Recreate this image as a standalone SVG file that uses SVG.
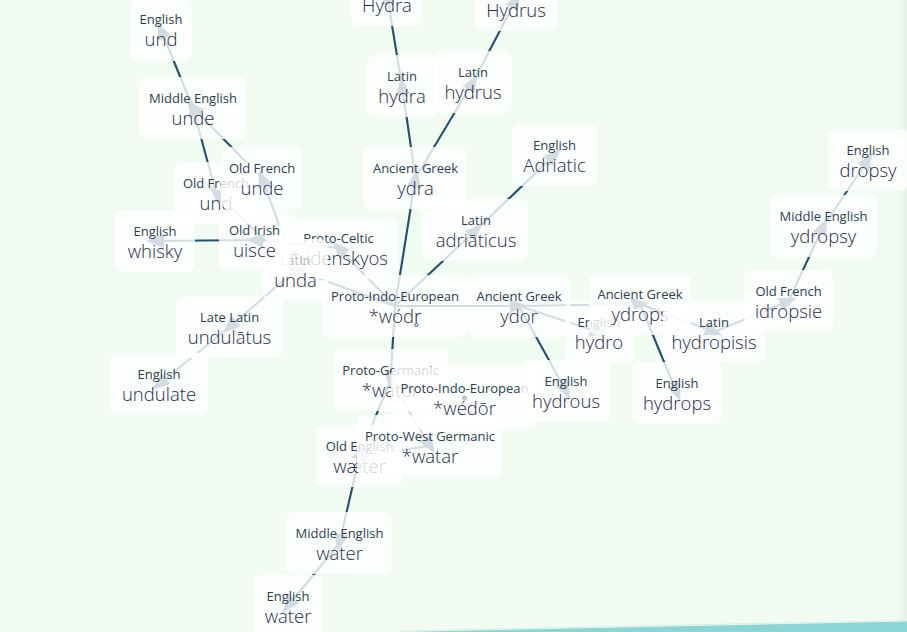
<svg xmlns="http://www.w3.org/2000/svg" width="907" height="632" viewBox="0 0 907 632">
<defs>
<style>
.bg{fill:#f1fbf2}
.box{fill:#ffffff;fill-opacity:0.8}
.lab{font-family:"Open Sans","Noto Sans",sans-serif;font-size:13px;fill:#2c3e50;text-anchor:middle}
.wd{font-family:"Open Sans","Noto Sans",sans-serif;font-size:18.5px;font-weight:300;fill:#2b2b4c;text-anchor:middle}
.edge{stroke:#22506f;stroke-width:2.1;fill:none;marker-end:url(#arr)}
</style>
<marker id="arr" viewBox="0 0 18 14" refX="9" refY="7" markerWidth="18" markerHeight="14" markerUnits="userSpaceOnUse" orient="auto">
<path d="M0,0 L18,7 L0,14 z" fill="#22506f"/>
</marker>
<linearGradient id="edgeShade" x1="0" y1="0" x2="1" y2="0">
<stop offset="0" stop-color="#000" stop-opacity="0"/>
<stop offset="1" stop-color="#000" stop-opacity="0.04"/>
</linearGradient>
</defs>
<rect class="bg" x="0" y="0" width="907" height="632"/>
<rect x="897" y="0" width="10" height="632" fill="url(#edgeShade)"/>
<polygon points="400,632 907,621.5 907,632" fill="#8bd5d4"/>
<line x1="400" y1="631" x2="907" y2="620.5" stroke="#d4efe8" stroke-width="1.2"/>

<g id="connectors">
<line class="edge" x1="193" y1="108" x2="161" y2="30"/>
<line class="edge" x1="216" y1="193" x2="193" y2="108"/>
<line class="edge" x1="262" y1="178" x2="193" y2="108"/>
<line class="edge" x1="295.5" y1="270" x2="216" y2="193"/>
<line class="edge" x1="295.5" y1="270" x2="262" y2="178"/>
<line class="edge" x1="295.5" y1="270" x2="229.5" y2="327"/>
<line class="edge" x1="229.5" y1="327" x2="159" y2="384"/>
<line class="edge" x1="395" y1="306" x2="295.5" y2="270"/>
<line class="edge" x1="395" y1="306" x2="338.5" y2="248"/>
<line class="edge" x1="338.5" y1="248" x2="254.5" y2="240"/>
<line class="edge" x1="254.5" y1="240" x2="155" y2="241"/>
<line class="edge" x1="395" y1="306" x2="415.5" y2="178"/>
<line class="edge" x1="415.5" y1="178" x2="402" y2="86"/>
<line class="edge" x1="402" y1="86" x2="387" y2="-5"/>
<line class="edge" x1="415.5" y1="178" x2="473" y2="82"/>
<line class="edge" x1="473" y1="82" x2="516" y2="0"/>
<line class="edge" x1="395" y1="306" x2="476" y2="230"/>
<line class="edge" x1="476" y1="230" x2="554.5" y2="155"/>
<line class="edge" x1="395" y1="306" x2="519" y2="306"/>
<line class="edge" x1="519" y1="306" x2="599" y2="332"/>
<line class="edge" x1="519" y1="306" x2="566" y2="391"/>
<line class="edge" x1="519" y1="306" x2="640" y2="304"/>
<line class="edge" x1="640" y1="304" x2="677" y2="393"/>
<line class="edge" x1="640" y1="304" x2="714" y2="332"/>
<line class="edge" x1="714" y1="332" x2="788.5" y2="301"/>
<line class="edge" x1="788.5" y1="301" x2="823.5" y2="226"/>
<line class="edge" x1="823.5" y1="226" x2="868" y2="160"/>
<line class="edge" x1="395" y1="306" x2="390.5" y2="380"/>
<line class="edge" x1="390.5" y1="380" x2="430" y2="446"/>
<line class="edge" x1="390.5" y1="380" x2="359.5" y2="456"/>
<line class="edge" x1="430" y1="446" x2="359.5" y2="456"/>
<line class="edge" x1="359.5" y1="456" x2="339.5" y2="543"/>
<line class="edge" x1="339.5" y1="543" x2="288" y2="606"/>
</g>

<g id="n-hydra"><rect class="box" x="351" y="-36" width="72" height="62" rx="8"/><text class="wd" x="387" y="12">Hydra</text></g>
<g id="n-hydrus"><rect class="box" x="475" y="-31" width="82" height="62" rx="8"/><text class="wd" x="516" y="17">Hydrus</text></g>
<g id="n-la-hydra"><rect class="box" x="367" y="55" width="70" height="62" rx="8"/><text class="lab" x="402" y="81">Latin</text><text class="wd" x="402" y="103">hydra</text></g>
<g id="n-la-hydrus"><rect class="box" x="434" y="51" width="78" height="62" rx="8"/><text class="lab" x="473" y="77">Latin</text><text class="wd" x="473" y="99">hydrus</text></g>
<g id="n-en-und"><rect class="box" x="130" y="-1" width="62" height="62" rx="8"/><text class="lab" x="161" y="24">English</text><text class="wd" x="161" y="46">und</text></g>
<g id="n-me-unde"><rect class="box" x="139" y="77" width="108" height="62" rx="8"/><text class="lab" x="193" y="103">Middle English</text><text class="wd" x="193" y="125">unde</text></g>
<g id="n-of-und"><rect class="box" x="174" y="162" width="84" height="62" rx="8"/><text class="lab" x="216" y="188">Old French</text><text class="wd" x="216" y="210">und</text></g>
<g id="n-of-unde"><rect class="box" x="221" y="147" width="82" height="62" rx="8"/><text class="lab" x="262" y="173">Old French</text><text class="wd" x="262" y="195">unde</text></g>
<g id="n-ag-ydra"><rect class="box" x="363" y="147" width="104" height="62" rx="8"/><text class="lab" x="415.5" y="173">Ancient Greek</text><text class="wd" x="415.5" y="195">ydra</text></g>
<g id="n-en-adriatic"><rect class="box" x="512" y="124" width="85" height="62" rx="8"/><text class="lab" x="554.5" y="150">English</text><text class="wd" x="554.5" y="172">Adriatic</text></g>
<g id="n-la-adriaticus"><rect class="box" x="423" y="199" width="105" height="62" rx="8"/><text class="lab" x="476" y="225">Latin</text><text class="wd" x="476" y="247">adriāticus</text></g>
<g id="n-en-dropsy"><rect class="box" x="828" y="129" width="80" height="62" rx="8"/><text class="lab" x="868" y="155">English</text><text class="wd" x="868" y="177">dropsy</text></g>
<g id="n-me-ydropsy"><rect class="box" x="770" y="195" width="107" height="62" rx="8"/><text class="lab" x="823.5" y="221">Middle English</text><text class="wd" x="823.5" y="243">ydropsy</text></g>
<g id="n-en-whisky"><rect class="box" x="115" y="210" width="80" height="62" rx="8"/><text class="lab" x="155" y="236">English</text><text class="wd" x="155" y="258">whisky</text></g>
<g id="n-pc"><rect class="box" x="279" y="217" width="119" height="62" rx="8"/><text class="lab" x="338.5" y="243">Proto-Celtic</text><text class="wd" x="338.5" y="265">*udenskyos</text></g>
<g id="n-la-unda"><rect class="box" x="263" y="239" width="65" height="62" rx="8"/><text class="lab" x="295.5" y="265" fill-opacity="0.35">Latin</text><text class="wd" x="295.5" y="287">unda</text></g>
<g id="n-oi-uisce"><rect class="box" x="219" y="209" width="71" height="62" rx="8"/><text class="lab" x="254.5" y="235">Old Irish</text><text class="wd" x="254.5" y="257">uisce</text></g>
<g id="n-ll"><rect class="box" x="176" y="296" width="107" height="62" rx="8"/><text class="lab" x="229.5" y="322">Late Latin</text><text class="wd" x="229.5" y="344">undulātus</text></g>
<g id="n-en-undulate"><rect class="box" x="110" y="353" width="98" height="62" rx="8"/><text class="lab" x="159" y="379">English</text><text class="wd" x="159" y="401">undulate</text></g>
<g id="n-pie1"><rect class="box" x="322" y="275" width="145" height="62" rx="8"/><text class="lab" x="395" y="301">Proto-Indo-European</text><text class="wd" x="395" y="323">*wódr̥</text></g>
<g id="n-ag-ydor"><rect class="box" x="467" y="275" width="103" height="62" rx="8"/><text class="lab" x="519" y="301">Ancient Greek</text><text class="wd" x="519" y="323">ydor</text></g>
<g id="n-en-hydro"><rect class="box" x="565" y="301" width="69" height="62" rx="8"/><text class="lab" x="599" y="327">English</text><text class="wd" x="599" y="349">hydro</text></g>
<g id="n-ag-ydrops"><rect class="box" x="589" y="273" width="102" height="62" rx="8"/><text class="lab" x="640" y="299">Ancient Greek</text><text class="wd" x="640" y="321">ydrops</text></g>
<g id="n-la-hydropisis"><rect class="box" x="663" y="301" width="102" height="62" rx="8"/><text class="lab" x="714" y="327">Latin</text><text class="wd" x="714" y="349">hydropisis</text></g>
<g id="n-of-idropsie"><rect class="box" x="744" y="270" width="89" height="62" rx="8"/><text class="lab" x="788.5" y="296">Old French</text><text class="wd" x="788.5" y="318">idropsie</text></g>
<g id="n-pg"><rect class="box" x="334" y="349" width="114" height="62" rx="8"/><text class="lab" x="390.5" y="375">Proto-Germanic</text><text class="wd" x="390.5" y="397">*wator</text></g>
<g id="n-pie2"><rect class="box" x="391" y="367" width="146" height="62" rx="8"/><circle cx="464.5" cy="398" r="2.5" fill="#b8c5d0"/><text class="lab" x="464.5" y="393">Proto-Indo-European</text><text class="wd" x="464.5" y="415">*wédōr</text></g>
<g id="n-en-hydrous"><rect class="box" x="521" y="360" width="90" height="62" rx="8"/><text class="lab" x="566" y="386">English</text><text class="wd" x="566" y="408">hydrous</text></g>
<g id="n-en-hydrops"><rect class="box" x="632" y="362" width="90" height="62" rx="8"/><text class="lab" x="677" y="388">English</text><text class="wd" x="677" y="410">hydrops</text></g>
<g id="n-oe"><rect class="box" x="316" y="425" width="86" height="62" rx="8"/><text class="lab" x="359.5" y="451">Old English</text><text class="wd" x="359.5" y="473">wæter</text></g>
<g id="n-pwg"><rect class="box" x="357" y="415" width="146" height="62" rx="8"/><text class="lab" x="430" y="441">Proto-West Germanic</text><text class="wd" x="430" y="463">*watar</text></g>
<g id="n-me-water"><rect class="box" x="286" y="512" width="106" height="62" rx="8"/><text class="lab" x="339.5" y="538">Middle English</text><text class="wd" x="339.5" y="560">water</text></g>
<g id="n-en-water"><rect class="box" x="253" y="575" width="69" height="62" rx="8"/><text class="lab" x="288" y="601">English</text><text class="wd" x="288" y="623">water</text></g>
</svg>
